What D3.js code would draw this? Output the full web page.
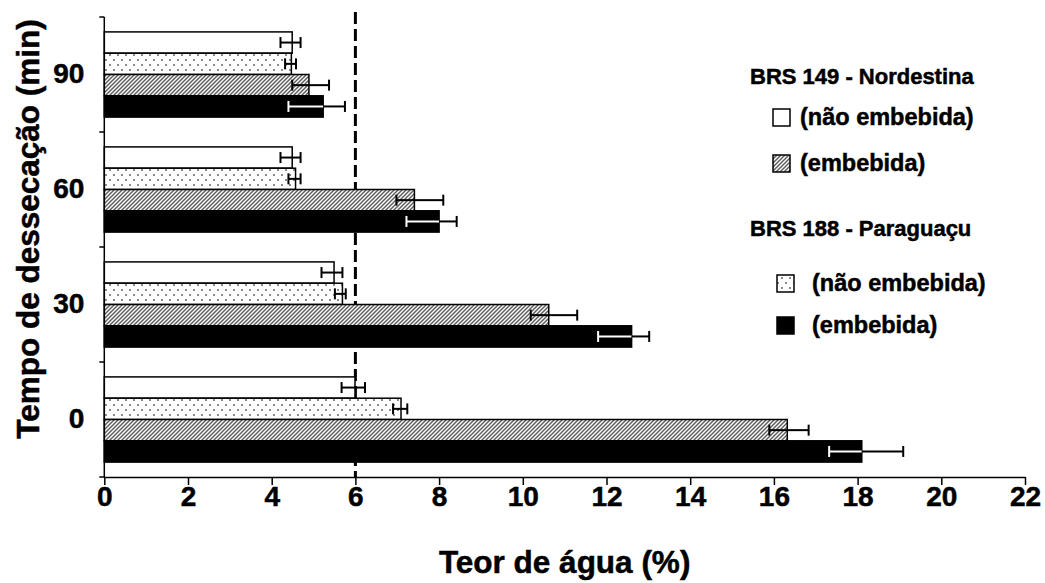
<!DOCTYPE html>
<html>
<head>
<meta charset="utf-8">
<script src="https://cdn.jsdelivr.net/npm/d3@7"></script>
<style>
  html, body { margin: 0; padding: 0; background: #fff; }
  svg { display: block; font-family: "Liberation Sans", Arial, sans-serif; font-weight: bold; }
  svg text { stroke: #000; stroke-width: 0.5px; paint-order: stroke; }
</style>
</head>
<body>
<svg id="chart" width="1045" height="583"></svg>
<script>
// Desiccation time groups (top to bottom)
const times = ["90", "60", "30", "0"];

// Water content (%) per cultivar / seed condition, in the order of `times`
const nordNao = [4.49, 4.49, 5.49, 5.99];    // BRS 149 - Nordestina (não embebida)
const paraNao = [4.47, 4.57, 5.69, 7.09];    // BRS 188 - Paraguaçu (não embebida)
const nordEmb = [4.89, 7.41, 10.62, 16.32];  // BRS 149 - Nordestina (embebida)
const paraEmb = [5.23, 8.00, 12.60, 18.10];  // BRS 188 - Paraguaçu (embebida)

// Error bar extents (low / high ends)
const nordNaoLo = [4.21, 4.21, 5.19, 5.67], nordNaoHi = [4.69, 4.69, 5.69, 6.23];
const paraNaoLo = [4.32, 4.40, 5.51, 6.90], paraNaoHi = [4.58, 4.69, 5.77, 7.24];
const nordEmbLo = [4.49, 6.98, 10.19, 15.89], nordEmbHi = [5.37, 8.10, 11.30, 16.83];
const paraEmbLo = [4.40, 7.22, 11.80, 17.32], paraEmbHi = [5.75, 8.42, 13.02, 19.09];

// X axis ticks
const xTicks = [0, 2, 4, 6, 8, 10, 12, 14, 16, 18, 20, 22];
const refLine = 6;

const seriesKeys = ["nordNao", "paraNao", "nordEmb", "paraEmb"];
const series = [
  { key: "nordNao", values: nordNao, lo: nordNaoLo, hi: nordNaoHi, fill: "#fff" },
  { key: "paraNao", values: paraNao, lo: paraNaoLo, hi: paraNaoHi, fill: "url(#dots)" },
  { key: "nordEmb", values: nordEmb, lo: nordEmbLo, hi: nordEmbHi, fill: "url(#hatch)" },
  { key: "paraEmb", values: paraEmb, lo: paraEmbLo, hi: paraEmbHi, fill: "#000" }
];

const svg = d3.select("#chart");

// Fill patterns
const defs = svg.append("defs");
const hatch = defs.append("pattern").attr("id", "hatch")
  .attr("patternUnits", "userSpaceOnUse").attr("width", 4).attr("height", 4);
hatch.append("rect").attr("width", 4).attr("height", 4).attr("fill", "#fff");
hatch.append("path").attr("d", "M-1,1 L1,-1 M0,4 L4,0 M3,5 L5,3")
  .attr("stroke", "#5e5e5e").attr("stroke-width", 1.5);

const dots = defs.append("pattern").attr("id", "dots")
  .attr("patternUnits", "userSpaceOnUse").attr("width", 8).attr("height", 10);
dots.append("rect").attr("width", 8).attr("height", 10).attr("fill", "#fff");
dots.append("circle").attr("cx", 2).attr("cy", 3).attr("r", 1).attr("fill", "#666");
dots.append("circle").attr("cx", 6).attr("cy", 8).attr("r", 1).attr("fill", "#666");

// Scales
const x = d3.scaleLinear().domain([0, 22]).range([104.3, 1025]);
const yGroup = d3.scaleBand().domain(times).range([17, 477]);
const ySeries = d3.scaleBand().domain(seriesKeys)
  .range([0, yGroup.bandwidth()]).paddingOuter(0.7);

// Reference line at 6 %
svg.append("line")
  .attr("x1", x(refLine)).attr("x2", x(refLine))
  .attr("y1", 12).attr("y2", 477)
  .attr("stroke", "#000").attr("stroke-width", 3)
  .attr("stroke-dasharray", "12,5");

// Bars
const groups = svg.selectAll("g.grp").data(times).join("g")
  .attr("class", "grp")
  .attr("transform", t => `translate(0,${yGroup(t)})`);

series.forEach(s => {
  groups.append("rect")
    .attr("x", x(0))
    .attr("y", ySeries(s.key))
    .attr("width", (t, i) => x(s.values[i]) - x(0))
    .attr("height", ySeries.bandwidth())
    .attr("fill", s.fill)
    .attr("stroke", "#000").attr("stroke-width", 1.5);
});

// Error bars (white where they run over a black bar)
const capH = 11;
series.forEach(s => {
  groups.each(function (t, i) {
    const g = d3.select(this);
    const cy = ySeries(s.key) + ySeries.bandwidth() / 2;
    const v = s.values[i], lo = s.lo[i], hi = s.hi[i];
    const inner = s.key === "paraEmb" ? "#fff" : "#000";
    g.append("line").attr("x1", x(lo)).attr("x2", x(Math.min(v, hi)))
      .attr("y1", cy).attr("y2", cy).attr("stroke", lo < v ? inner : "#000").attr("stroke-width", 2);
    if (hi > v) {
      g.append("line").attr("x1", x(Math.max(v, lo))).attr("x2", x(hi))
        .attr("y1", cy).attr("y2", cy).attr("stroke", "#000").attr("stroke-width", 2);
    }
    g.append("line").attr("x1", x(lo)).attr("x2", x(lo))
      .attr("y1", cy - capH / 2).attr("y2", cy + capH / 2)
      .attr("stroke", lo < v ? inner : "#000").attr("stroke-width", 2);
    g.append("line").attr("x1", x(hi)).attr("x2", x(hi))
      .attr("y1", cy - capH / 2).attr("y2", cy + capH / 2)
      .attr("stroke", hi < v ? inner : "#000").attr("stroke-width", 2);
  });
});

// X axis
const xAxis = svg.append("g")
  .attr("transform", "translate(0,477)")
  .call(d3.axisBottom(x).tickValues(xTicks).tickSize(8).tickPadding(1).tickSizeOuter(0));
xAxis.select(".domain").attr("stroke", "#000").attr("stroke-width", 1.5);
xAxis.selectAll(".tick line").attr("stroke", "#000").attr("stroke-width", 1.5);
xAxis.selectAll(".tick text")
  .attr("fill", "#000")
  .style("font-family", "'Liberation Sans', Arial, sans-serif")
  .style("font-weight", "bold").style("font-size", "28px");

// Y axis: category labels
const yAxis = svg.append("g")
  .attr("transform", `translate(${x(0)},0)`)
  .call(d3.axisLeft(yGroup).tickSize(0).tickPadding(20));
yAxis.select(".domain").attr("stroke", "#000").attr("stroke-width", 1.5)
  .attr("d", `M0,17V477`);
yAxis.selectAll(".tick text")
  .attr("fill", "#000")
  .style("font-family", "'Liberation Sans', Arial, sans-serif")
  .style("font-weight", "bold").style("font-size", "28px");

// Y axis: group boundary ticks
const bounds = times.map(t => yGroup(t)).concat([yGroup.range()[1]]);
svg.append("g").selectAll("line").data(bounds).join("line")
  .attr("x1", x(0) - 5).attr("x2", x(0))
  .attr("y1", d => d).attr("y2", d => d)
  .attr("stroke", "#000").attr("stroke-width", 1.5);

// Axis titles
svg.append("text")
  .attr("x", (x.range()[0] + x.range()[1]) / 2).attr("y", 573)
  .attr("text-anchor", "middle").style("font-size", "31.5px")
  .text("Teor de água (%)");

svg.append("text")
  .attr("transform", "translate(39,229) rotate(-90)")
  .attr("text-anchor", "middle").style("font-size", "31.5px")
  .text("Tempo de dessecação (min)");

// Legend
const legend = svg.append("g");
legend.append("text").attr("x", 750).attr("y", 84).style("font-size", "22px").text("BRS 149 - Nordestina");
legend.append("text").attr("x", 750).attr("y", 236).style("font-size", "22px").text("BRS 188 - Paraguaçu");

const legendItems = [
  { fill: "#fff", bx: 773, by: 109, tx: 800, ty: 125, label: "(não embebida)" },
  { fill: "url(#hatch)", bx: 773, by: 155, tx: 800, ty: 171, label: "(embebida)" },
  { fill: "url(#dots)", bx: 777, by: 275, tx: 812, ty: 291, label: "(não embebida)" },
  { fill: "#000", bx: 777, by: 317, tx: 812, ty: 333, label: "(embebida)" }
];
legendItems.forEach(d => {
  legend.append("rect").attr("x", d.bx).attr("y", d.by)
    .attr("width", 17).attr("height", 17)
    .attr("fill", d.fill).attr("stroke", "#000").attr("stroke-width", 1.5);
  legend.append("text").attr("x", d.tx).attr("y", d.ty).style("font-size", "23.5px").text(d.label);
});
</script>
</body>
</html>
